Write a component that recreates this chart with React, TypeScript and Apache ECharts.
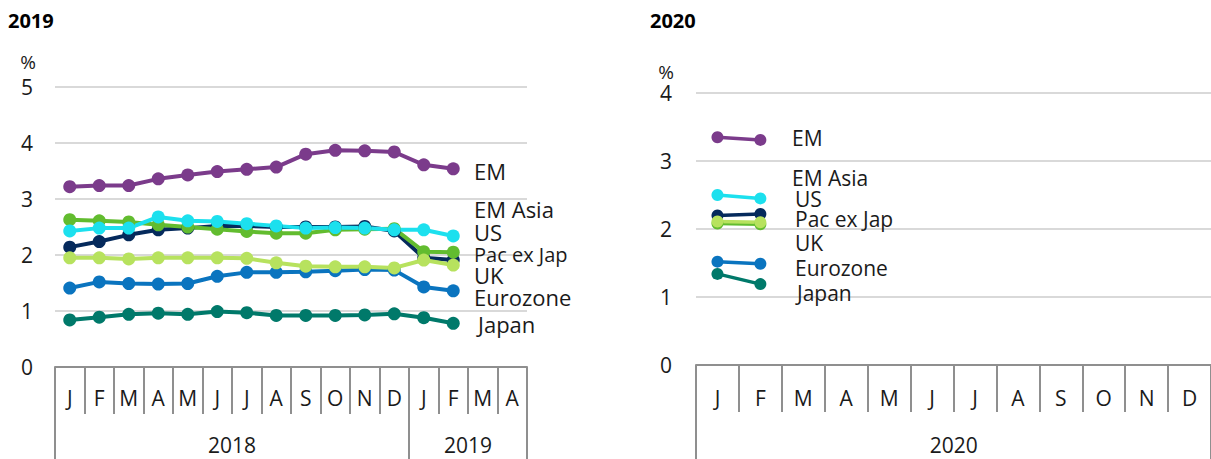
import React, { useEffect, useRef } from "react";
import * as echarts from "echarts";

// ---------- data ----------
const months2019 = ["J", "F", "M", "A", "M", "J", "J", "A", "S", "O", "N", "D", "J", "F", "M", "A"];
const years2019 = ["2018", "2018", "2018", "2018", "2018", "2018", "2018", "2018", "2018", "2018", "2018", "2018", "2019", "2019", "2019", "2019"];
const months2020 = ["J", "F", "M", "A", "M", "J", "J", "A", "S", "O", "N", "D"];
const years2020 = ["2020", "2020", "2020", "2020", "2020", "2020", "2020", "2020", "2020", "2020", "2020", "2020"];

const em2019 = [3.22, 3.24, 3.24, 3.36, 3.43, 3.49, 3.53, 3.57, 3.8, 3.87, 3.86, 3.84, 3.61, 3.54];
const emAsia2019 = [2.14, 2.24, 2.36, 2.45, 2.48, 2.52, 2.52, 2.5, 2.5, 2.5, 2.51, 2.43, 1.95, 1.91];
const pacExJap2019 = [2.63, 2.61, 2.59, 2.54, 2.5, 2.46, 2.42, 2.39, 2.39, 2.45, 2.46, 2.47, 2.06, 2.05];
const uk2019 = [1.95, 1.95, 1.93, 1.95, 1.95, 1.95, 1.94, 1.86, 1.8, 1.79, 1.79, 1.77, 1.91, 1.82];
const us2019 = [2.43, 2.48, 2.48, 2.68, 2.61, 2.6, 2.56, 2.52, 2.48, 2.49, 2.48, 2.45, 2.45, 2.34];
const eurozone2019 = [1.41, 1.52, 1.49, 1.48, 1.49, 1.62, 1.69, 1.69, 1.7, 1.72, 1.74, 1.73, 1.43, 1.36];
const japan2019 = [0.84, 0.89, 0.94, 0.96, 0.94, 0.99, 0.97, 0.92, 0.92, 0.92, 0.93, 0.95, 0.88, 0.78];

const em2020 = [3.35, 3.31];
const emAsia2020 = [2.2, 2.22];
const pacExJap2020 = [2.08, 2.07];
const uk2020 = [2.11, 2.1];
const us2020 = [2.5, 2.45];
const eurozone2020 = [1.52, 1.49];
const japan2020 = [1.34, 1.19];

const seriesNames = ["EM", "Japan", "Eurozone", "EM Asia", "Pac ex Jap", "UK", "US"];
const labelOrder = ["EM", "EM Asia", "US", "Pac ex Jap", "UK", "Eurozone", "Japan"];

// ---------- styles / layout ----------
const FONT = "'Open Sans', 'Noto Sans', sans-serif";
const colors: Record<string, string> = {
  EM: "#7B3B8B",
  "EM Asia": "#052A5C",
  "Pac ex Jap": "#62BC2F",
  UK: "#B7E25E",
  US: "#1CE0EE",
  Eurozone: "#0A74BF",
  Japan: "#00796A",
};
const data2019: Record<string, number[]> = {
  EM: em2019, "EM Asia": emAsia2019, "Pac ex Jap": pacExJap2019, UK: uk2019,
  US: us2019, Eurozone: eurozone2019, Japan: japan2019,
};
const data2020: Record<string, number[]> = {
  EM: em2020, "EM Asia": emAsia2020, "Pac ex Jap": pacExJap2020, UK: uk2020,
  US: us2020, Eurozone: eurozone2020, Japan: japan2020,
};
// label positions (pixels) for the series name annotations: [x, y, fontSize]
const labelPos2019: Record<string, [number, number, number]> = {
  EM: [474, 171, 22], "EM Asia": [474, 209, 22], US: [474, 232, 22], "Pac ex Jap": [474, 254, 20],
  UK: [474, 275, 22], Eurozone: [474, 297, 22], Japan: [478, 324, 22],
};
const labelPos2020: Record<string, [number, number, number]> = {
  EM: [792, 138, 21], "EM Asia": [792, 178, 21], US: [795, 199, 21], "Pac ex Jap": [795, 219, 21],
  UK: [795, 243, 21], Eurozone: [795, 268, 21], Japan: [797, 293, 21],
};

const AXIS_GREY = "#8f8f8f";
const GRID_GREY = "#d9d9d9";
const TEXT = "#1a1a1a";

const G1 = { left: 55, top: 87, width: 472, height: 280 };
const G2 = { left: 696, top: 93, width: 521, height: 272 };

function monthAxis(gridIndex: number, data: string[], margin: number) {
  return {
    type: "category", gridIndex, data, position: "bottom", boundaryGap: true,
    axisLine: { show: true, lineStyle: { color: AXIS_GREY, width: 2 } },
    axisTick: { show: true, interval: 0, length: 47, lineStyle: { color: AXIS_GREY, width: 2 } },
    axisLabel: { interval: 0, fontSize: 21, color: TEXT, fontFamily: FONT, margin },
    splitLine: { show: false },
  };
}
function yearAxis(gridIndex: number, data: string[], breaks: number[], labelIdx: number[], band: number, margin: number) {
  return {
    type: "category", gridIndex, data, position: "bottom", boundaryGap: true, offset: 0,
    axisLine: { show: false },
    axisTick: { show: true, interval: (i: number) => breaks.includes(i), length: 110, lineStyle: { color: AXIS_GREY, width: 2 } },
    axisLabel: {
      interval: (i: number) => labelIdx.includes(i), fontSize: 21, color: TEXT, fontFamily: FONT,
      margin, padding: [0, 0, 0, band],
    },
    splitLine: { show: false },
  };
}
function valueAxis(gridIndex: number, max: number, margin: number) {
  return {
    type: "value", gridIndex, min: 0, max, interval: 1,
    axisLine: { show: false }, axisTick: { show: false },
    axisLabel: { fontSize: 21, color: TEXT, fontFamily: FONT, margin },
    splitLine: { show: true, lineStyle: { color: GRID_GREY, width: 2 } },
  };
}

export default function App() {
  const ref = useRef<HTMLDivElement>(null);
  useEffect(() => {
    if (!ref.current) return;
    const chart = echarts.init(ref.current, null, { renderer: "svg" });

    const series: any[] = [];
    seriesNames.forEach((name) => {
      series.push({
        name, type: "line", xAxisIndex: 0, yAxisIndex: 0, data: data2019[name],
        symbol: "circle", symbolSize: 13, showSymbol: true,
        itemStyle: { color: colors[name] }, lineStyle: { color: colors[name], width: 4 },
        emphasis: { disabled: true },
      });
    });
    seriesNames.forEach((name) => {
      series.push({
        name, type: "line", xAxisIndex: 2, yAxisIndex: 1, data: data2020[name],
        symbol: "circle", symbolSize: 12, showSymbol: true,
        itemStyle: { color: colors[name] }, lineStyle: { color: colors[name], width: 3.5 },
        emphasis: { disabled: true },
      });
    });

    const txt = (x: number, y: number, text: string, fontSize: number, extra: any = {}) => ({
      type: "text", x, y, z: 100,
      style: { text, fill: TEXT, fontSize, fontFamily: FONT, verticalAlign: "middle", ...extra },
    });
    const graphics: any[] = [
      txt(8, 20, "2019", 20, { fontWeight: "bold", fill: "#000" }),
      txt(650, 20, "2020", 20, { fontWeight: "bold", fill: "#000" }),
      txt(28, 62, "%", 19, { align: "center" }),
      txt(666, 72, "%", 19, { align: "center" }),
    ];
    labelOrder.forEach((name) => {
      const p = labelPos2019[name];
      graphics.push(txt(p[0], p[1], name, p[2]));
      const q = labelPos2020[name];
      graphics.push(txt(q[0], q[1], name, q[2]));
    });

    chart.setOption({
      animation: false,
      grid: [G1, G2],
      xAxis: [
        monthAxis(0, months2019, 20),
        yearAxis(0, years2019, [0, 12], [5, 13], G1.width / months2019.length, 67),
        monthAxis(1, months2020, 22),
        yearAxis(1, years2020, [0], [5], G2.width / months2020.length, 69),
      ],
      yAxis: [valueAxis(0, 5, 22), valueAxis(1, 4, 24)],
      series,
      graphic: graphics,
    });
    return () => chart.dispose();
  }, []);
  return <div ref={ref} style={{ position: "absolute", left: 0, top: 0, width: 1211, height: 459 }} />;
}
